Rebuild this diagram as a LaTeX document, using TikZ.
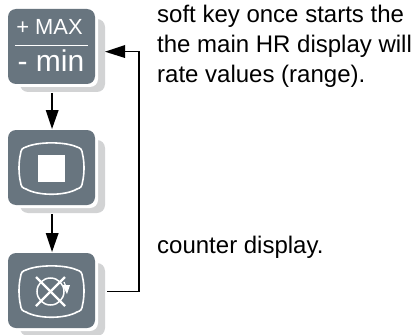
\documentclass[tikz,border=0pt]{standalone}
\usepackage{fontspec}
\setmainfont{Liberation Sans}
\definecolor{keygrey}{HTML}{68757F}
\definecolor{shadowgrey}{HTML}{D2D3D4}
\tikzset{
  x=1pt,y=-1pt,
  keybase/.style={fill=keygrey,rounded corners=8pt},
  keyshadow/.style={fill=shadowgrey,rounded corners=8pt},
  screen/.style={draw=white,line width=1.6pt},
  conn/.style={draw=black,line width=1.1pt},
  tip/.style={fill=black},
  lbl/.style={anchor=base west,inner sep=0pt,font=\fontsize{24}{26}\selectfont,text=black},
  keytext/.style={text=white,inner sep=0pt,anchor=base},
}
\newcommand{\keyat}[1]{%
  \fill[keyshadow] (20,#1+10) rectangle (105,#1+83);
  \fill[white,rounded corners=8pt] (8,#1-1) rectangle (98,#1+78);
  \fill[keybase] (8,#1) rectangle (95,#1+75);
}
\newcommand{\screenat}[1]{%
  \draw[screen] (26,#1+17)
    .. controls (38,#1+11.5) and (65,#1+11.5) .. (77,#1+17)
    .. controls (81,#1+18) and (82,#1+20) .. (82.5,#1+24)
    .. controls (84.5,#1+32) and (84.5,#1+44) .. (82.5,#1+52)
    .. controls (82,#1+56) and (81,#1+58) .. (77,#1+59)
    .. controls (65,#1+66) and (38,#1+66) .. (26,#1+59)
    .. controls (22,#1+58) and (21,#1+56) .. (20.5,#1+52)
    .. controls (18.5,#1+44) and (18.5,#1+32) .. (20.5,#1+24)
    .. controls (21,#1+20) and (22,#1+18) .. (26,#1+17) -- cycle;
}
\begin{document}
\begin{tikzpicture}
\useasboundingbox (0,0) rectangle (414,334);
% key 1
\keyat{9}
\node[keytext,font=\fontsize{21.9}{24}\selectfont] (maxl) at (49.5,35) {+ MAX};
\draw[white,line width=1pt] (15,45.5) -- (88,45.5);
\node[keytext,font=\fontsize{30}{32}\selectfont] (minl) at (51,72) {- min};
% key 2
\keyat{130}
\screenat{130}
\fill[white] (38,154.5) rectangle (65,182);
% key 3
\keyat{253}
\screenat{253}
\draw[white,line width=1.5pt] (50.5,291.5) circle (13.5);
\draw[white,line width=2.2pt] (36,277) -- (65,306);
\draw[white,line width=2.2pt] (65,277) -- (36,306);
\draw[white,line width=1.2pt] (64,282) -- (66.5,288);
\fill[white] (62.5,285) -- (70,285) -- (67,294) -- cycle;
% connectors
\coordinate (k1b) at (52,93);
\coordinate (k2t) at (52,129);
\coordinate (k2b) at (52,214);
\coordinate (k3t) at (52,252);
\coordinate (k3r) at (107,291.7);
\coordinate (k1r) at (105,51.7);
\coordinate (c1) at (139,291.7);
\coordinate (c2) at (139,51.7);
\draw[conn] (k1b) -- (52,112);
\fill[tip] (k2t) -- (45.7,110) -- (58.7,110) -- cycle;
\draw[conn] (k2b) -- (52,234);
\fill[tip] (k3t) -- (45.7,233) -- (58.7,233) -- cycle;
\draw[conn] (k3r) -- (c1) -- (c2) -- (124,51.7);
\fill[tip] (k1r) -- (125,45) -- (125,58) -- cycle;
% text
\node[lbl] (t1) at (157,22.7) {soft key once starts the};
\node[lbl] (t2) at (157,52.3) {the main HR display will};
\node[lbl] (t3) at (157,82) {rate values (range).};
\node[lbl] (t4) at (157,253.4) {counter display.};
\end{tikzpicture}
\end{document}
